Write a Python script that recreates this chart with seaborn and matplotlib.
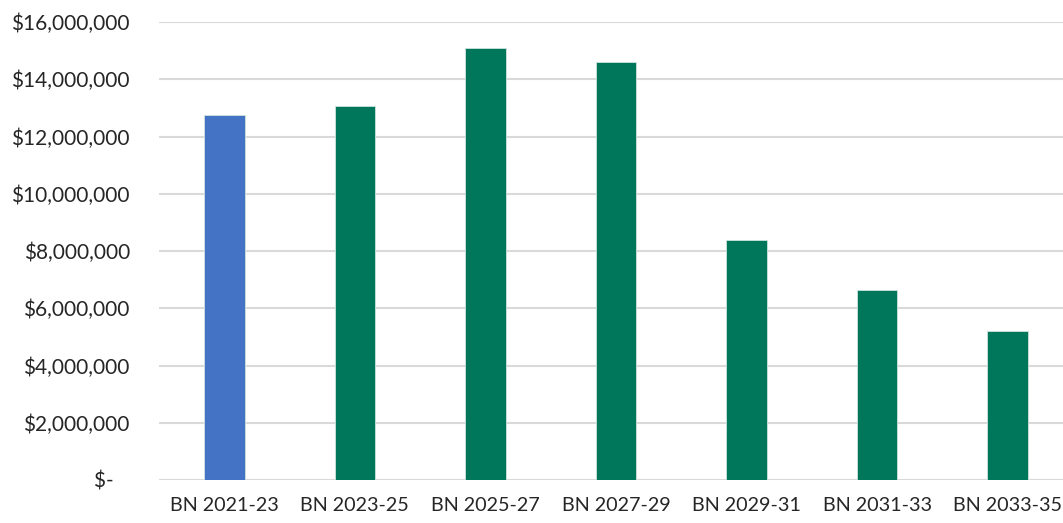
import matplotlib
matplotlib.use("Agg")
import matplotlib.pyplot as plt
import seaborn as sns
import pandas as pd
from matplotlib.ticker import FuncFormatter

# values
categories = ["BN 2021-23", "BN 2023-25", "BN 2025-27", "BN 2027-29",
              "BN 2029-31", "BN 2031-33", "BN 2033-35"]
values = [12760000, 13080000, 15080000, 14590000, 8380000, 6630000, 5200000]
bar_colors = ["#4472C4", "#00775A", "#00775A", "#00775A",
              "#00775A", "#00775A", "#00775A"]
y_ticks = [0, 2000000, 4000000, 6000000, 8000000, 10000000,
           12000000, 14000000, 16000000]

df = pd.DataFrame({"period": categories, "amount": values})

sns.set_theme(style="white")
plt.rcParams["font.family"] = ["Lato", "DejaVu Sans"]

fig = plt.figure(figsize=(10.63, 5.23), dpi=100)
ax = fig.add_axes([159 / 1063, 43 / 523, 914 / 1063, 458 / 523])

sns.barplot(data=df, x="period", y="amount", hue="period",
            palette=bar_colors, saturation=1, width=0.31, legend=False,
            edgecolor="#CFE3DC", linewidth=0.6, ax=ax, zorder=3)

ax.set_ylim(0, 16000000)
ax.set_xlim(-0.5, 6.5)
ax.set_yticks(y_ticks)


def money(v, pos):
    if v == 0:
        return "$-   "
    return f"${v:,.0f}"


ax.yaxis.set_major_formatter(FuncFormatter(money))
ax.grid(axis="y", color="#D9D9D9", linewidth=1.5, zorder=0)
for s in ax.spines.values():
    s.set_visible(False)

ax.tick_params(axis="y", length=0, pad=21, labelsize=15, labelcolor="#262626")
ax.tick_params(axis="x", length=0, pad=12, labelsize=14.2, labelcolor="#262626")
ax.set_xlabel("")
ax.set_ylabel("")

fig.savefig("out.png", dpi=100)
